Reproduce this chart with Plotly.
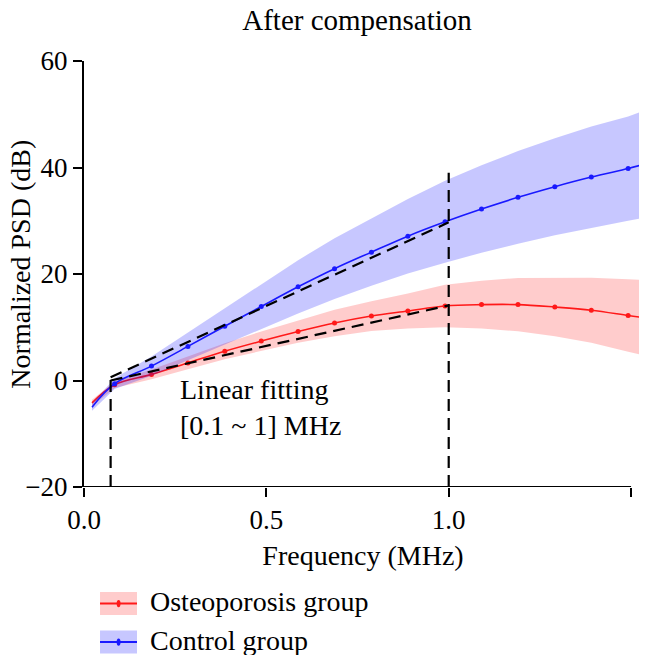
import plotly.graph_objects as go

# frequency points of the averaged spectra (MHz); first/last are curve ends without markers
freq = [0.022, 0.084, 0.185, 0.285, 0.386, 0.486, 0.587, 0.687, 0.788, 0.888,
        0.990, 1.090, 1.190, 1.291, 1.391, 1.492, 1.525]

control_mean = [-5.0, -0.6, 2.7, 6.4, 10.2, 13.9, 17.6, 21.0, 24.1, 27.1,
                29.8, 32.2, 34.4, 36.4, 38.2, 39.8, 40.4]
control_sd = [0.7, 1.0, 1.8, 2.6, 3.4, 4.2, 5.0, 5.7, 6.3, 7.0,
              7.7, 8.2, 8.7, 9.1, 9.5, 9.8, 10.0]

osteo_mean = [-4.2, -0.8, 1.15, 3.3, 5.5, 7.4, 9.2, 10.8, 12.1, 13.05,
              14.0, 14.25, 14.25, 13.8, 13.2, 12.2, 11.9]
osteo_sd = [0.6, 0.6, 0.9, 1.2, 1.5, 1.8, 2.1, 2.5, 2.8, 3.3,
            4.0, 4.5, 5.0, 5.5, 6.1, 6.8, 7.0]

# linear fit segments over [0.1 ~ 1] MHz and the range markers
fit_x = [0.073, 1.0]
control_fit = [0.6, 29.7]
osteo_fit = [0.0, 14.1]
range_x = [0.073, 1.0]
range_top = [0.6, 39.0]

FONT = "Liberation Serif"
BLUE = "rgb(25,25,255)"
RED = "rgb(255,25,25)"
BLUE_FILL = "rgba(0,0,255,0.22)"
RED_FILL = "rgba(255,0,0,0.2)"

# the page body adds an 8px margin, so the figure is 8px smaller than the window
W, H = 639, 647

fig = go.Figure()


def add_group(mean, sd, color, fill):
    upper = [m + s for m, s in zip(mean, sd)]
    lower = [m - s for m, s in zip(mean, sd)]
    fig.add_trace(go.Scatter(
        x=freq + freq[::-1], y=upper + lower[::-1],
        fill="toself", fillcolor=fill, line=dict(width=0),
        mode="lines", hoverinfo="skip", showlegend=False))
    fig.add_trace(go.Scatter(
        x=freq, y=mean, mode="lines", line=dict(color=color, width=1.6, shape="spline"),
        showlegend=False))
    fig.add_trace(go.Scatter(
        x=freq[1:-1], y=mean[1:-1], mode="markers",
        marker=dict(color=color, size=5), showlegend=False))


add_group(osteo_mean, osteo_sd, RED, RED_FILL)
add_group(control_mean, control_sd, BLUE, BLUE_FILL)

dash = dict(color="black", width=2.2, dash="12px,7px")
fig.add_trace(go.Scatter(x=fit_x, y=control_fit, mode="lines", line=dash, showlegend=False))
fig.add_trace(go.Scatter(x=fit_x, y=osteo_fit, mode="lines", line=dash, showlegend=False))
for xv, top in zip(range_x, range_top):
    fig.add_trace(go.Scatter(x=[xv, xv], y=[-20, top], mode="lines", line=dash, showlegend=False))

# x axis spine only spans 0 - 1.5
fig.add_shape(type="line", x0=0, x1=1.5, y0=-20, y1=-20, xref="x", yref="y",
              line=dict(color="black", width=2))

fig.add_annotation(x=0.257, y=-5, xref="x", yref="y", text="Linear fitting<br>[0.1 ~ 1] MHz",
                   showarrow=False, xanchor="left", yanchor="middle", align="left",
                   font=dict(family=FONT, size=28, color="black"))

# y axis title, sits a little above the axis centre
fig.add_annotation(x=-0.1135, y=0.5235, xref="paper", yref="paper", text="Normalized PSD (dB)",
                   textangle=-90, showarrow=False, xanchor="center", yanchor="middle",
                   font=dict(family=FONT, size=28, color="black"))

# legend drawn beneath the axis
legend_items = [("Osteoporosis group", RED, RED_FILL, -0.2735),
                ("Control group", BLUE, BLUE_FILL, -0.3640)]
for name, col, fcol, yc in legend_items:
    fig.add_shape(type="rect", xref="paper", yref="paper", x0=0.0287, x1=0.095,
                  y0=yc - 0.027, y1=yc + 0.027, fillcolor=fcol, line=dict(width=0))
    fig.add_shape(type="line", xref="paper", yref="paper", x0=0.0287, x1=0.095,
                  y0=yc, y1=yc, line=dict(color=col, width=2))
    fig.add_shape(type="circle", xref="paper", yref="paper", x0=0.0585, x1=0.0655,
                  y0=yc - 0.0085, y1=yc + 0.0085, fillcolor=col, line=dict(width=0))
    fig.add_annotation(x=0.114, y=yc + 0.004, xref="paper", yref="paper", text=name,
                       showarrow=False, xanchor="left", yanchor="middle",
                       font=dict(family=FONT, size=28, color="black"))

fig.update_layout(
    width=W, height=H,
    margin=dict(l=76, r=5, t=53, b=168),
    paper_bgcolor="white", plot_bgcolor="white",
    font=dict(family=FONT, size=27, color="black"),
    title=dict(text="After compensation", x=(357 - 8) / W, xref="container", xanchor="center",
               y=1 - 12 / H, yref="container", yanchor="middle",
               font=dict(family=FONT, size=29, color="black")),
    showlegend=False,
)
fig.update_xaxes(range=[0, 1.53], tickvals=[0, 0.5, 1.0, 1.5], tickformat=".1f",
                 showline=False, showgrid=False, zeroline=False, automargin=False,
                 ticks="outside", ticklen=9, tickwidth=2, tickcolor="black",
                 title=dict(text="Frequency (MHz)", standoff=10,
                            font=dict(family=FONT, size=28, color="black")))
fig.update_yaxes(range=[-20, 60], tickvals=[-20, 0, 20, 40, 60],
                 showline=True, linecolor="black", linewidth=2, showgrid=False, zeroline=False,
                 automargin=False,
                 ticks="outside", ticklen=9, tickwidth=2, tickcolor="black")

fig.write_html("out.html")
